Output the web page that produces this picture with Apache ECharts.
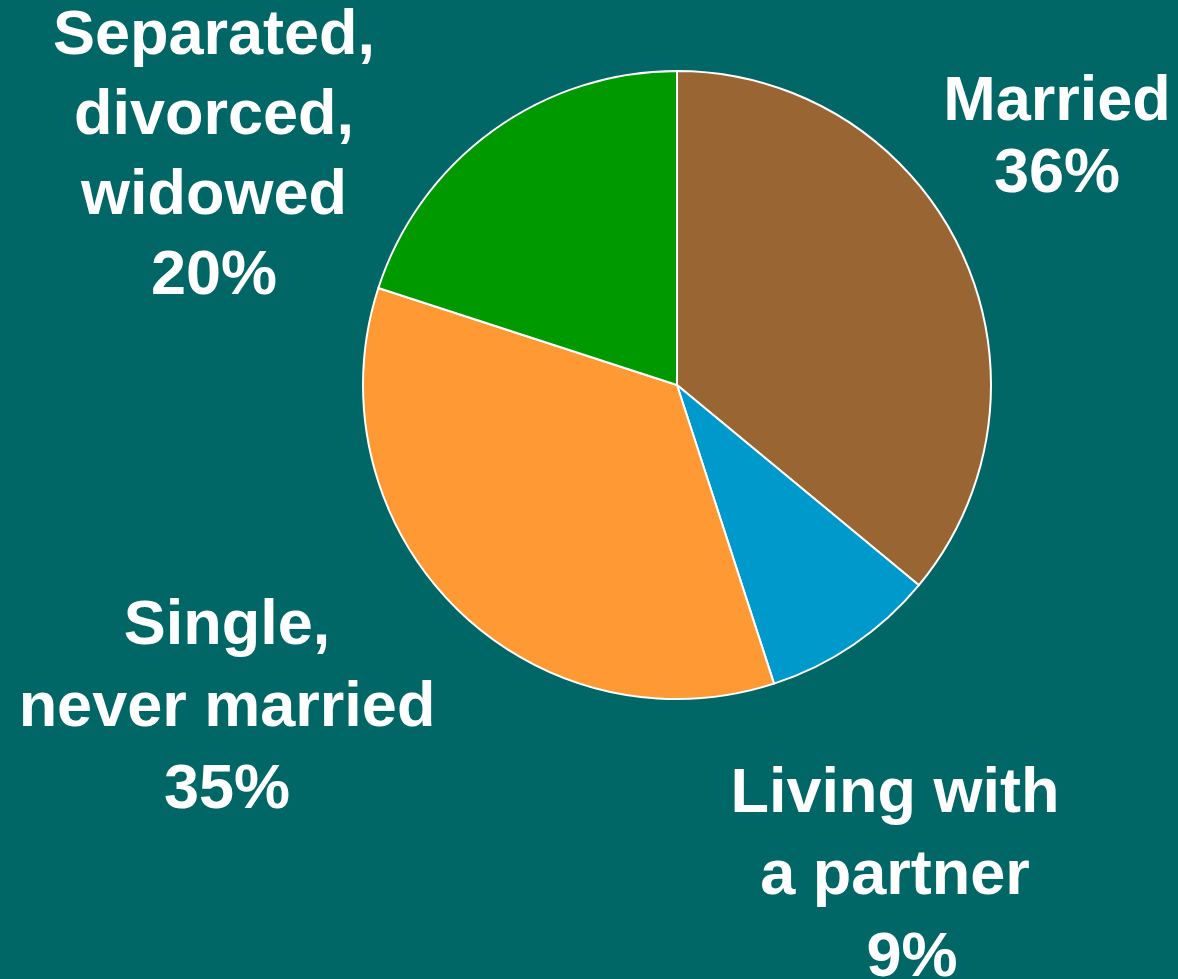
<!DOCTYPE html>
<html>
<head>
<meta charset="utf-8">
<script src="https://cdn.jsdelivr.net/npm/echarts@6/dist/echarts.min.js"></script>
<style>
  html, body { margin: 0; padding: 0; background: #006766; }
  #chart { width: 1178px; height: 979px; }
</style>
</head>
<body>
<div id="chart"></div>
<script>
// Marital status shares (percent)
const categories = ['Married', 'Living with\na partner', 'Single,\nnever married', 'Separated,\ndivorced,\nwidowed'];
const values = [36, 9, 35, 20];
const colors = ['#996633', '#0099CC', '#FF9933', '#009900'];

// Label anchors (block centre), line heights and percent-line indent per slice label
const labelAnchors = [[1057, 139], [895, 877], [227, 709], [214, 157]];
const labelLineHeights = [72, 82, 82, 80];
const pctIndent = [0, 34, 0, 0];

const FONT = '"Liberation Sans", Arial, sans-serif';
const chart = echarts.init(document.getElementById('chart'));

chart.setOption({
  backgroundColor: '#006766',
  animation: false,
  series: [{
    type: 'pie',
    center: [677, 385],
    radius: 314,
    startAngle: 90,
    clockwise: true,
    avoidLabelOverlap: false,
    itemStyle: { borderColor: '#ffffff', borderWidth: 2 },
    label: {
      show: true,
      position: 'outside',
      color: '#ffffff',
      fontFamily: FONT,
      fontWeight: 'bold',
      fontSize: 63,
      align: 'center',
      formatter: function (p) {
        return '{t|' + p.name.split('\n').join('}\n{t|') + '}\n{p|' + p.value + '%}';
      }
    },
    labelLine: { show: false },
    labelLayout: function (p) {
      const a = labelAnchors[p.dataIndex];
      return { x: a[0], y: a[1], align: 'center', verticalAlign: 'middle' };
    },
    emphasis: { disabled: true },
    data: categories.map(function (name, i) {
      const base = { color: '#ffffff', fontFamily: FONT, fontWeight: 'bold', fontSize: 63, lineHeight: labelLineHeights[i] };
      return {
        name: name,
        value: values[i],
        itemStyle: { color: colors[i] },
        label: {
          lineHeight: labelLineHeights[i],
          rich: {
            t: base,
            p: Object.assign({}, base, { padding: [0, 0, 0, pctIndent[i]] })
          }
        }
      };
    })
  }]
});
</script>
</body>
</html>
